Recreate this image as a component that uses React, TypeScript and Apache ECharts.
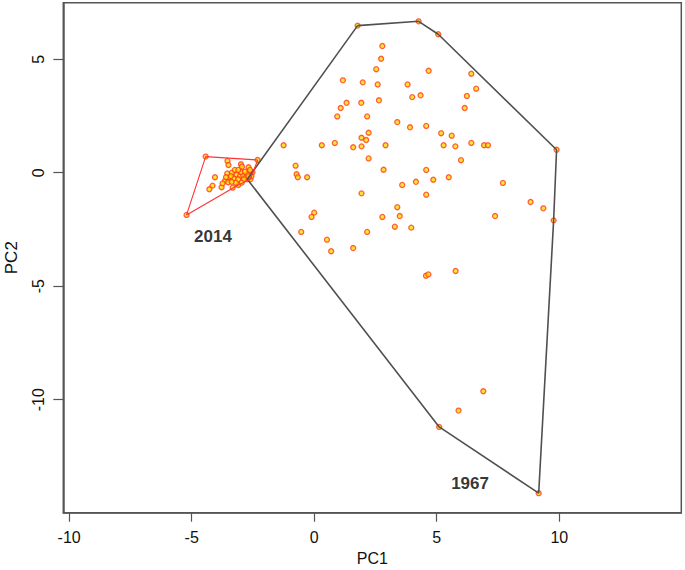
import React, { useEffect, useRef } from "react";
import * as echarts from "echarts";

// Axis setup
const xTicks = [-10, -5, 0, 5, 10];
const yTicks = [-10, -5, 0, 5];
const xRange = [-10.24, 14.98];
const yRange = [-14.98, 7.49];

// 1967 scores (PC1, PC2)
const points1967: number[][] = [
  [1.77, 6.48], [4.26, 6.67], [5.06, 6.10], [9.89, 1.01],
  [2.78, 5.58], [2.73, 5.02], [2.53, 4.56], [4.67, 4.49], [6.41, 4.36],
  [1.17, 4.07], [1.98, 3.98], [2.59, 3.89], [3.81, 3.89], [6.61, 3.70],
  [4.34, 3.41], [4.00, 3.33], [6.23, 3.38], [1.32, 3.08], [1.92, 3.08],
  [2.64, 3.19], [1.08, 2.85], [6.14, 2.85], [0.94, 2.48], [2.16, 2.48],
  [3.39, 2.23], [3.91, 2.00], [4.57, 2.06], [2.22, 1.76], [5.18, 1.74],
  [5.61, 1.63], [1.93, 1.54], [2.12, 1.44], [-1.25, 1.21], [0.31, 1.21],
  [0.84, 1.31], [1.59, 1.12], [1.93, 1.16], [2.91, 1.21], [5.28, 1.21],
  [5.76, 1.16], [6.41, 1.31], [6.93, 1.21], [7.09, 1.21], [2.22, 0.63],
  [5.99, 0.55], [-0.76, 0.31], [-0.72, -0.07], [-0.67, -0.20], [-0.29, -0.20],
  [2.83, 0.13], [4.57, 0.12], [4.15, -0.40], [4.86, -0.31], [5.49, -0.20],
  [3.59, -0.54], [7.70, -0.45], [1.93, -0.91], [4.57, -0.97], [3.39, -1.52],
  [8.83, -1.29], [9.35, -1.57], [9.77, -2.10], [0.00, -1.76], [-0.11, -1.95],
  [2.78, -1.95], [3.49, -1.91], [7.38, -1.91], [3.29, -2.38], [3.96, -2.42],
  [-0.53, -2.61], [2.16, -2.61], [0.52, -2.95], [0.69, -3.46], [1.59, -3.32],
  [4.56, -4.54], [4.66, -4.48], [5.77, -4.33], [6.90, -9.63], [5.89, -10.48],
  [5.10, -11.20], [9.16, -14.12], [-2.73, -0.29],
];

// 1967 convex hull (closed)
const hull1967: number[][] = [
  [1.77, 6.48], [4.26, 6.67], [5.06, 6.10], [9.89, 1.01], [9.77, -2.10],
  [9.16, -14.12], [5.10, -11.20], [-2.73, -0.29], [1.77, 6.48],
];

// 2014 scores (PC1, PC2)
const points2014: number[][] = [
  [-4.43, 0.71], [-2.31, 0.56], [-2.60, -0.29], [-3.10, -0.54], [-5.21, -1.86],
  [-3.54, 0.52], [-3.50, 0.34], [-2.99, 0.37], [-2.95, 0.27], [-2.68, 0.24],
  [-2.52, 0.02], [-2.62, 0.12], [-4.05, -0.20], [-3.55, -0.03], [-3.36, 0.00],
  [-3.17, -0.09], [-3.03, -0.15], [-2.90, -0.12], [-2.76, -0.07], [-3.44, -0.22],
  [-3.28, -0.26], [-3.64, -0.35], [-3.51, -0.42], [-3.10, -0.29], [-2.79, -0.22],
  [-2.56, -0.15], [-4.15, -0.57], [-4.28, -0.73], [-3.78, -0.64], [-3.33, -0.66],
  [-2.99, 0.03], [-3.24, 0.12], [-3.40, -0.15], [-3.60, -0.20], [-2.87, -0.29],
  [-2.68, -0.15], [-3.74, -0.47], [-3.20, -0.44], [-3.37, -0.40], [-2.96, -0.44],
  [-2.83, 0.05], [-3.10, 0.12],
];

// 2014 convex hull (closed)
const hull2014: number[][] = [
  [-4.43, 0.71], [-2.31, 0.56], [-2.60, -0.29], [-3.10, -0.54], [-5.21, -1.86],
  [-4.43, 0.71],
];

// Year annotations
const annotationNames = ["2014", "1967"];
const annotationPos: number[][] = [[-4.13, -2.83], [6.36, -13.68]];

const FONT = "'Liberation Sans', Arial, sans-serif";

export default function App() {
  const ref = useRef<HTMLDivElement>(null);
  useEffect(() => {
    if (!ref.current) return;
    const chart = echarts.init(ref.current, undefined, { renderer: "svg" });
    const pointStyle = {
      color: "#ffdd00",
      borderColor: "#ff3a1a",
      borderWidth: 1.3,
    };
    chart.setOption({
      animation: false,
      backgroundColor: "#ffffff",
      grid: {
        left: 63.3,
        top: 2.7,
        right: 3.7,
        bottom: 57.3,
        outerBoundsMode: "none",
        containLabel: false,
        show: true,
        borderColor: "#555555",
        borderWidth: 1.5,
        backgroundColor: "transparent",
      },
      xAxis: {
        type: "value",
        min: xRange[0],
        max: xRange[1],
        name: "PC1",
        nameLocation: "middle",
        nameGap: 38,
        nameTextStyle: { fontFamily: FONT, fontSize: 16, color: "#111" },
        axisLine: { show: true, onZero: false, lineStyle: { color: "#555", width: 1.5 } },
        axisTick: {
          show: true,
          customValues: xTicks,
          length: 9,
          lineStyle: { color: "#555", width: 1.2 },
        },
        axisLabel: {
          customValues: xTicks,
          fontFamily: FONT,
          fontSize: 16,
          color: "#111",
          margin: 17,
        },
        splitLine: { show: false },
      },
      yAxis: {
        type: "value",
        min: yRange[0],
        max: yRange[1],
        name: "PC2",
        nameLocation: "middle",
        nameRotate: 90,
        nameGap: 43,
        nameTextStyle: { fontFamily: FONT, fontSize: 17, color: "#111" },
        axisLine: { show: true, onZero: false, lineStyle: { color: "#555", width: 1.5 } },
        axisTick: {
          show: true,
          customValues: yTicks,
          length: 10,
          lineStyle: { color: "#555", width: 1.2 },
        },
        axisLabel: {
          customValues: yTicks,
          rotate: 90,
          fontFamily: FONT,
          fontSize: 16,
          color: "#111",
          margin: 17,
        },
        splitLine: { show: false },
      },
      series: [
        {
          type: "scatter",
          data: points1967,
          symbol: "circle",
          symbolSize: 5,
          itemStyle: pointStyle,
          z: 2,
        },
        {
          type: "scatter",
          data: points2014,
          symbol: "circle",
          symbolSize: 5,
          itemStyle: pointStyle,
          z: 2,
        },
        {
          type: "line",
          data: hull1967,
          showSymbol: false,
          symbol: "none",
          lineStyle: { color: "#505050", width: 1.6 },
          z: 3,
        },
        {
          type: "line",
          data: hull2014,
          showSymbol: false,
          symbol: "none",
          lineStyle: { color: "#ff3333", width: 1.1 },
          z: 3,
        },
        {
          type: "scatter",
          data: annotationNames.map((n, i) => ({ name: n, value: annotationPos[i] })),
          symbolSize: 1,
          itemStyle: { color: "transparent" },
          label: {
            show: true,
            position: "inside",
            formatter: "{b}",
            fontFamily: FONT,
            fontWeight: "bold",
            fontSize: 17,
            color: "#000",
          },
          z: 4,
        },
      ],
    });
    return () => chart.dispose();
  }, []);
  return (
    <div
      ref={ref}
      style={{ position: "fixed", left: 0, top: 0, width: 685, height: 570 }}
    />
  );
}
